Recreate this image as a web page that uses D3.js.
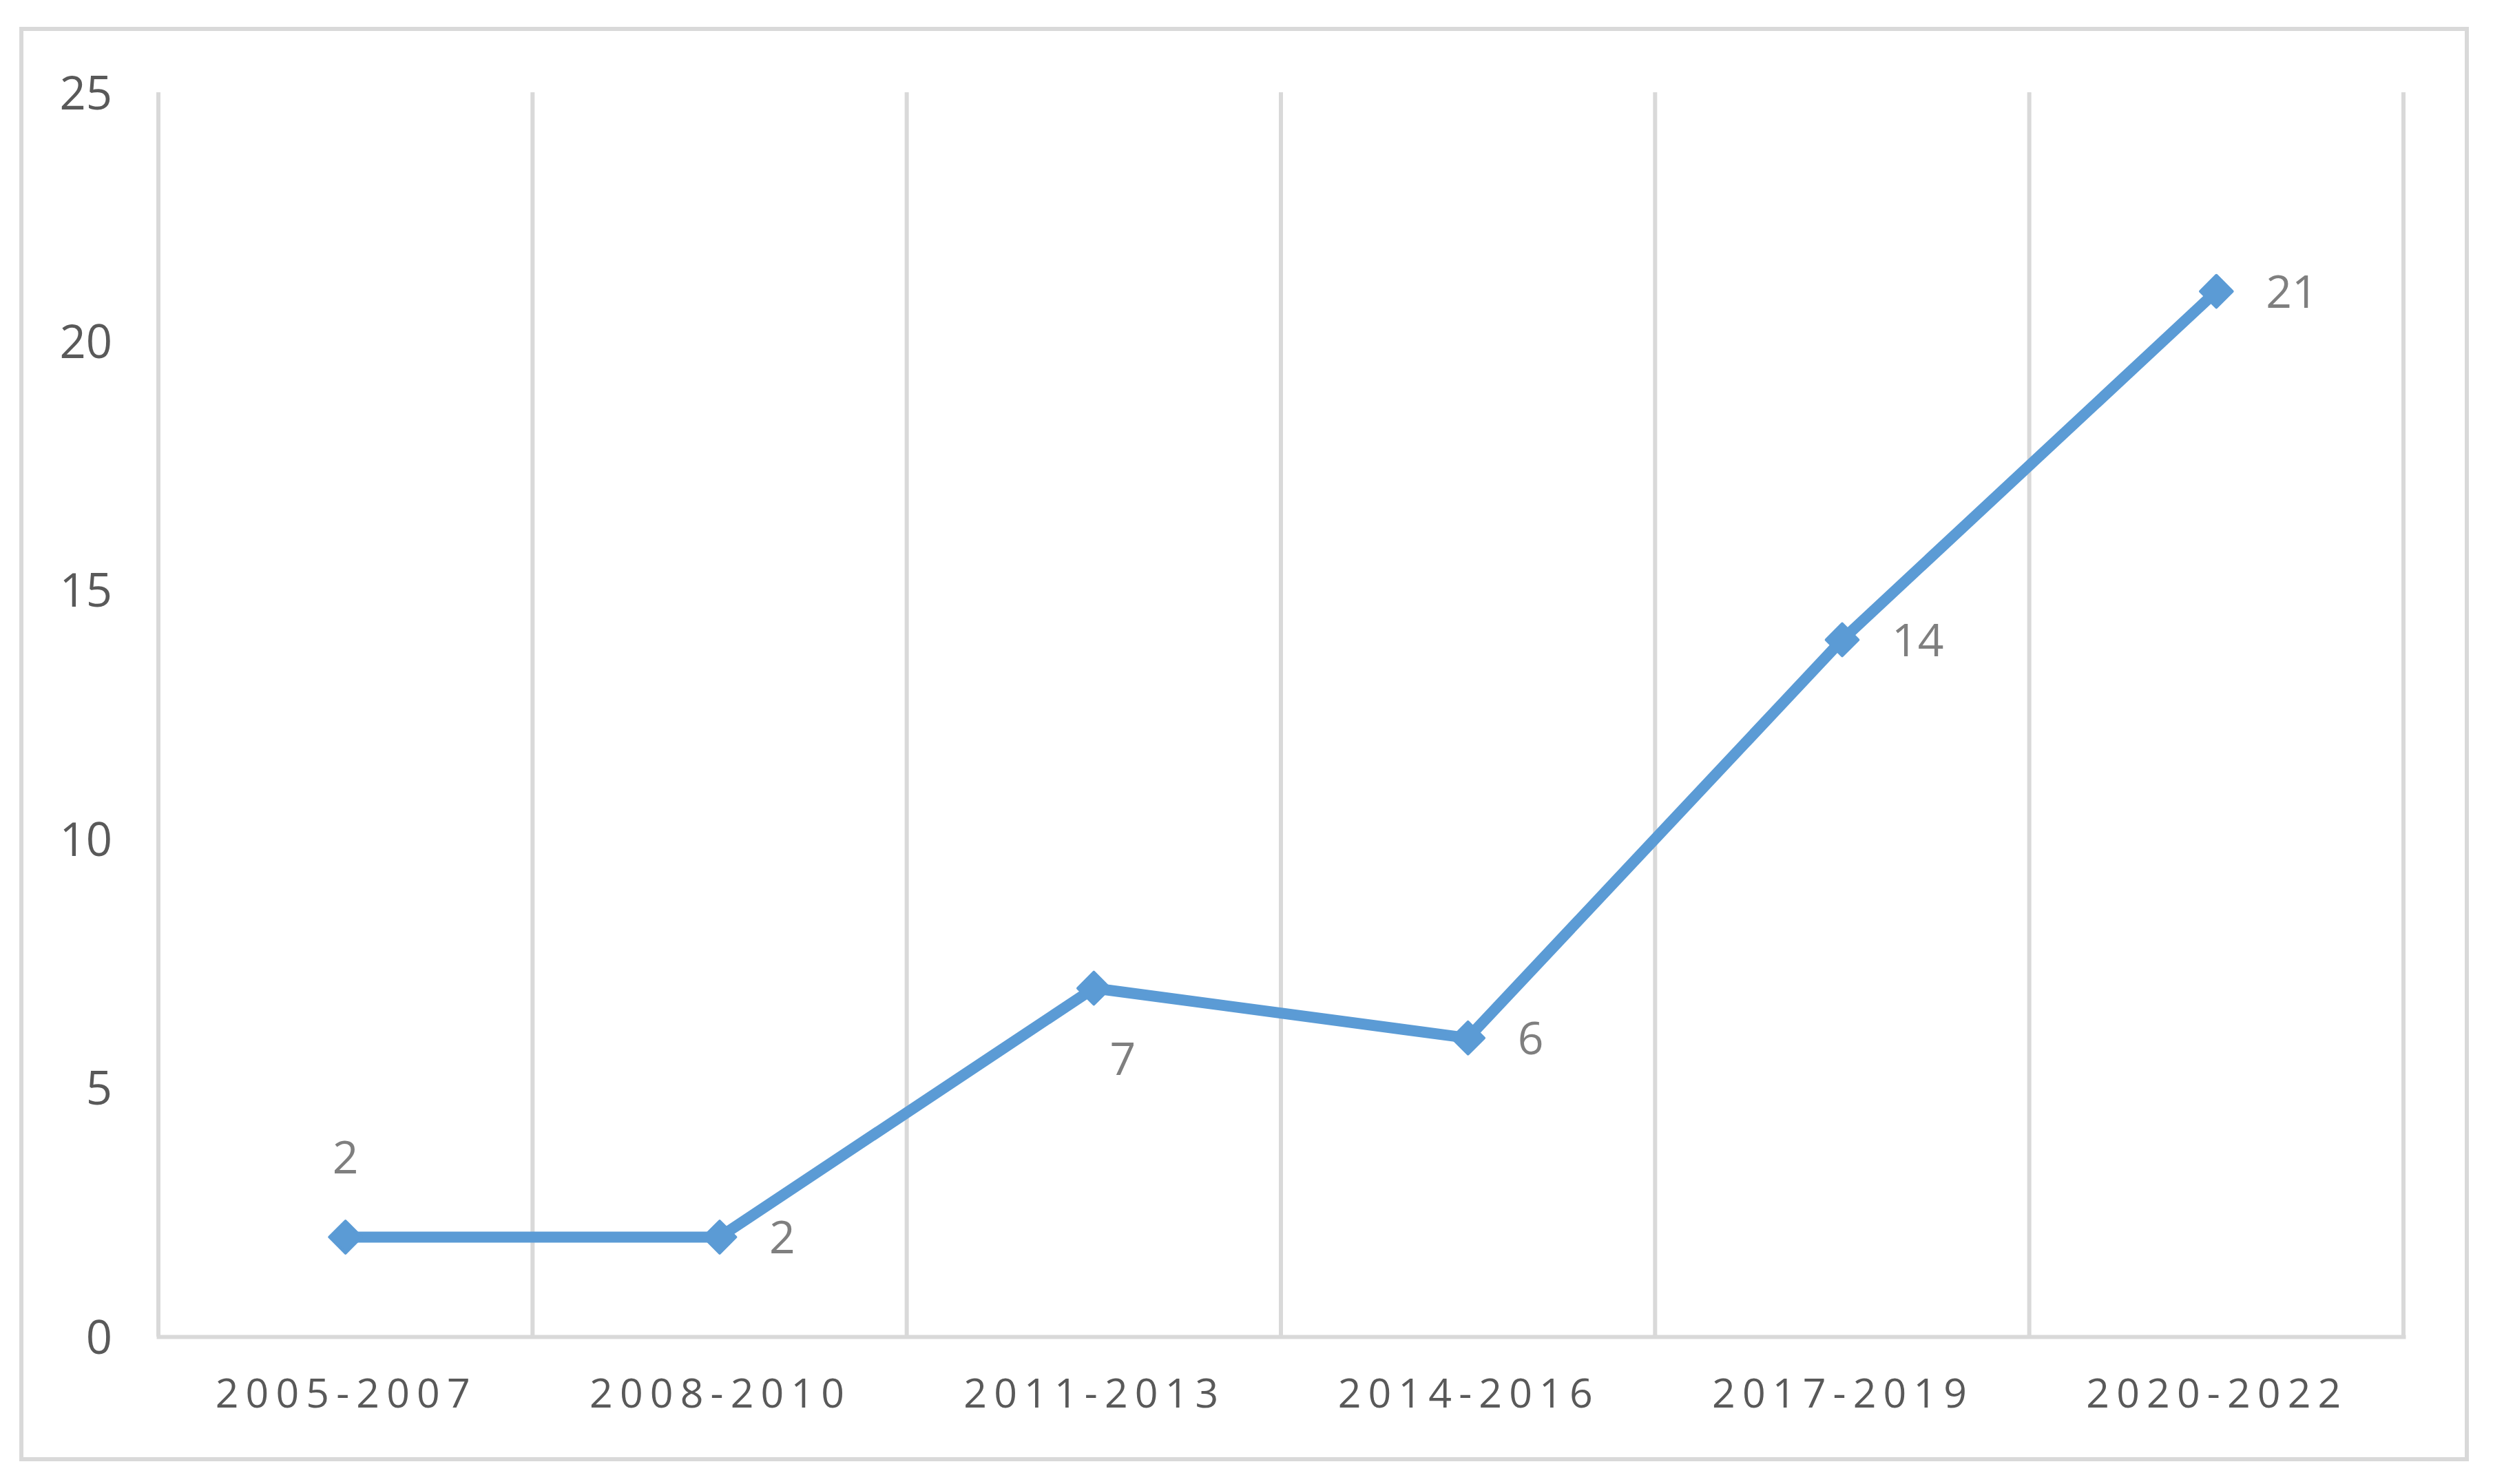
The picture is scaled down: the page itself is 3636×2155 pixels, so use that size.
<!DOCTYPE html>
<html>
<head>
<meta charset="utf-8">
<script src="https://cdn.jsdelivr.net/npm/d3@7"></script>
<style>
  body { margin: 0; background: #fff; }
  svg { display: block; }
</style>
</head>
<body>
<div class="Canvas"></div>
<script>
const categories = ['2005-2007', '2008-2010', '2011-2013', '2014-2016', '2017-2019', '2020-2022'];
const values = [2, 2, 7, 6, 14, 21];
const yTicks = [0, 5, 10, 15, 20, 25];

const width = 3636;
const height = 2155;
const plot = { left: 230, right: 3490, top: 134, bottom: 1941 };
const gridColor = '#d9d9d9';
const lineColor = '#5b9bd5';
const fontFamily = '"Open Sans", "Noto Sans", sans-serif';

// where each data label sits relative to its point (Excel put a couple by hand)
const labelOffset = (i) => {
  if (i === 0) return { dx: 0, dy: -116, anchor: 'middle' };
  if (i === 2) return { dx: 42, dy: 102, anchor: 'middle' };
  return { dx: 72, dy: 0, anchor: 'start' };
};

const svg = d3
  .select('.Canvas')
  .append('svg')
  .attr('width', width)
  .attr('height', height);

svg
  .append('rect')
  .attr('x', 31)
  .attr('y', 42)
  .attr('width', 3582 - 31)
  .attr('height', 2119 - 42)
  .attr('fill', '#fff')
  .attr('stroke', gridColor)
  .attr('stroke-width', 6);

const x = d3.scaleBand().domain(categories).range([plot.left, plot.right]);
const y = d3.scaleLinear().domain([0, 25]).range([plot.bottom, plot.top]);
const cx = (d) => x(d) + x.bandwidth() / 2;

// vertical gridlines on category boundaries
const bounds = categories.map((c) => x(c)).concat([plot.right]);
svg
  .append('g')
  .selectAll('line')
  .data(bounds)
  .enter()
  .append('line')
  .attr('x1', (d) => d)
  .attr('x2', (d) => d)
  .attr('y1', y(25))
  .attr('y2', y(0))
  .attr('stroke', gridColor)
  .attr('stroke-width', 6);

// x axis
const xAxis = svg
  .append('g')
  .attr('transform', `translate(0, ${y(0)})`)
  .call(d3.axisBottom(x).tickSize(0).tickSizeOuter(0));
xAxis.select('.domain').attr('stroke', gridColor).attr('stroke-width', 6).attr('stroke-linecap', 'square');
xAxis
  .selectAll('text')
  .attr('font-family', fontFamily)
  .attr('font-size', 59)
  .attr('fill', '#595959')
  .attr('y', 82)
  .attr('dy', '0.36em')
  .attr('text-anchor', 'start')
  .attr('x', -189)
  .attr('textLength', 370)
  .attr('lengthAdjust', 'spacing');

// y axis
const yAxis = svg
  .append('g')
  .attr('transform', `translate(${plot.left}, 0)`)
  .call(d3.axisLeft(y).tickValues(yTicks).tickSize(0).tickPadding(67));
yAxis.select('.domain').remove();
yAxis
  .selectAll('text')
  .attr('font-family', fontFamily)
  .attr('font-size', 67)
  .attr('fill', '#595959')
  .attr('dy', '0.36em');

// series line
const line = d3
  .line()
  .x((d, i) => cx(categories[i]))
  .y((d) => y(d));

svg
  .append('path')
  .datum(values)
  .attr('d', line)
  .attr('fill', 'none')
  .attr('stroke', lineColor)
  .attr('stroke-width', 16)
  .attr('stroke-linejoin', 'round');

// diamond markers
const diamond = d3.symbol().type(d3.symbolSquare).size(33 * 33);
svg
  .append('g')
  .selectAll('path')
  .data(values)
  .enter()
  .append('path')
  .attr('d', diamond)
  .attr('transform', (d, i) => `translate(${cx(categories[i])}, ${y(d)}) rotate(45)`)
  .attr('fill', lineColor)
  .attr('stroke', lineColor)
  .attr('stroke-width', 4)
  .attr('stroke-linejoin', 'round');

// data labels
svg
  .append('g')
  .selectAll('text')
  .data(values)
  .enter()
  .append('text')
  .attr('x', (d, i) => cx(categories[i]) + labelOffset(i).dx)
  .attr('y', (d, i) => y(d) + labelOffset(i).dy)
  .attr('dy', '0.36em')
  .attr('text-anchor', (d, i) => labelOffset(i).anchor)
  .attr('font-family', fontFamily)
  .attr('font-size', 66)
  .attr('fill', '#7f7f7f')
  .text((d) => d);
</script>
</body>
</html>
